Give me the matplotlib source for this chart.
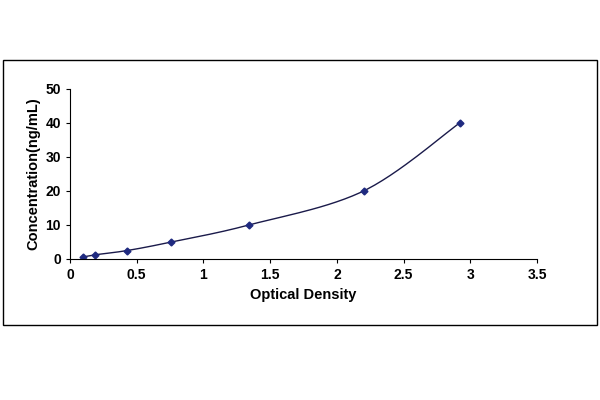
import matplotlib
matplotlib.use("Agg")
import matplotlib.pyplot as plt
import numpy as np
from matplotlib.patches import Rectangle

od = [0.1, 0.19, 0.43, 0.76, 1.34, 2.2, 2.92]
conc = [0.625, 1.25, 2.5, 5, 10, 20, 40]

plt.rcParams["font.family"] = "Liberation Sans"
plt.rcParams["font.weight"] = "bold"

fig = plt.figure(figsize=(6, 4), dpi=100)
ax = fig.add_axes([0.1167, 0.3525, 0.7783, 0.425])

# smooth curve through the standards (Catmull-Rom style)
x = np.array(od); y = np.array(conc)
xs, ys = [], []
for i in range(len(x) - 1):
    p0 = (x[max(i-1, 0)], y[max(i-1, 0)])
    p1 = (x[i], y[i]); p2 = (x[i+1], y[i+1])
    p3 = (x[min(i+2, len(x)-1)], y[min(i+2, len(x)-1)])
    t = np.linspace(0, 1, 30)
    for k, (a0, a1, a2, a3) in enumerate([(p0[0], p1[0], p2[0], p3[0]), (p0[1], p1[1], p2[1], p3[1])]):
        v = 0.5 * (2*a1 + (-a0 + a2)*t + (2*a0 - 5*a1 + 4*a2 - a3)*t**2 + (-a0 + 3*a1 - 3*a2 + a3)*t**3)
        (xs if k == 0 else ys).extend(v)
ax.plot(xs, ys, color="#1a1a4a", linewidth=1)
ax.plot(od, conc, linestyle="none", marker="D", markersize=3.5, color="#1f2a80")

ax.set_xlim(0, 3.5)
ax.set_ylim(0, 50)
ax.set_xticks([0, 0.5, 1, 1.5, 2, 2.5, 3, 3.5])
ax.set_xticklabels(["0", "0.5", "1", "1.5", "2", "2.5", "3", "3.5"])
ax.set_yticks([0, 10, 20, 30, 40, 50])
ax.tick_params(labelsize=10, direction="out", length=3)
ax.spines["top"].set_visible(False)
ax.spines["right"].set_visible(False)
ax.set_xlabel("Optical Density", fontsize=10.5, fontweight="bold")
ax.set_ylabel("Concentration(ng/mL)", fontsize=10.5, fontweight="bold")

fig.patches.append(Rectangle((0.005, 0.1875), 0.99, 0.6625, transform=fig.transFigure,
                             fill=False, edgecolor="black", linewidth=1))
fig.savefig("out.png", dpi=100)
